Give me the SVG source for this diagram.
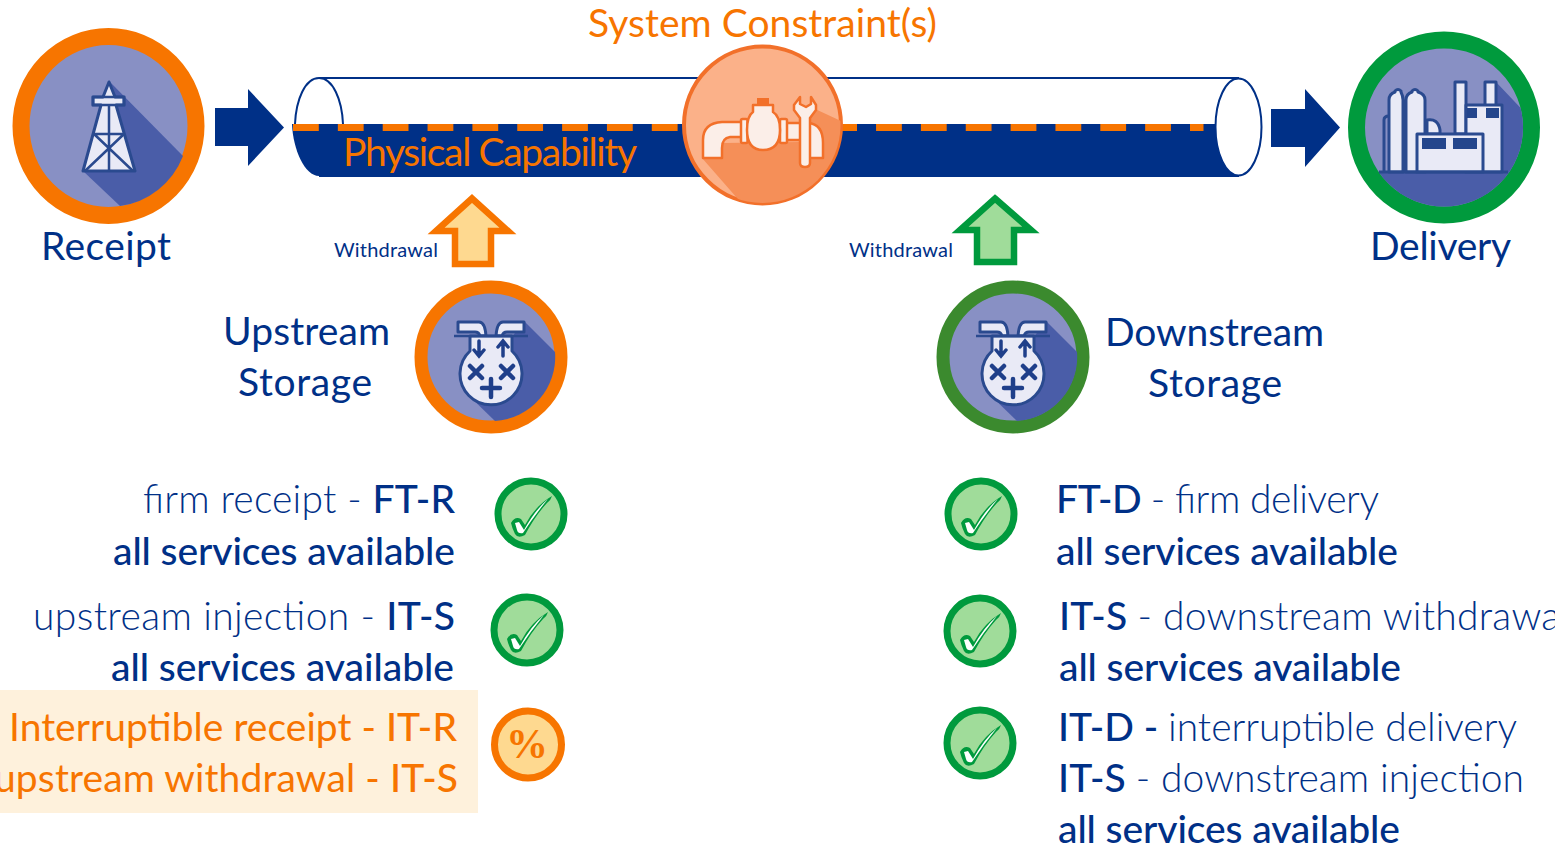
<svg xmlns="http://www.w3.org/2000/svg" width="1555" height="850" viewBox="0 0 1555 850">
<style>
text{font-family:Lato,"Open Sans",sans-serif;fill:#003087}
.big{font-size:39px;font-weight:300}
.big.h{font-weight:400}
.big.or{font-weight:400}
.or,.or tspan{fill:#f77500}
.b{font-weight:500}
.big.b{font-weight:500}
.ring{fill:#8890c4;stroke-width:17}
.shadow{fill:#4a5da8}
.ico{fill:#e9eaf6;stroke:#2a4a8f;stroke-width:3;stroke-linejoin:round}
.block{fill:#003087}
.okc{fill:#a0dc9a;stroke:#009a3d;stroke-width:7}
</style>
<defs>
<g id="chk">
<circle class="okc" r="33"/>
<path d="M-20 9Q-16 2-10 5L-6 11Q4-8 21-18Q20-14 16-11Q4 2-6 21Q-13 25-16 20Q-19 14-20 9Z" fill="#009a3d"/>
<path d="M-16 9L-12 8L-7 16Q4-4 17-15Q3 2-8 19Q-13 20-14 16Z" fill="#fff"/>
</g>
<g id="storage">
<path class="shadow" d="M34-35L64-5A64 64 0 0 1 4 64L-28 33Z"/>
<path class="ico" d="M-33-35H-12Q-6-35-5-21H-11Q-12-25-16-25H-33Z"/>
<path class="ico" d="M33-35H12Q6-35 5-21H11Q12-25 16-25H33Z"/>
<path class="ico" d="M-21-21H21V-6A31 31 0 1 1-21-6Z"/>
<path d="M-37-21H37" stroke="#2a4a8f" stroke-width="2.500"/>
<g stroke="#1f3f8a" fill="none" stroke-linecap="round">
<path stroke-width="3.500" d="M-12-16V-2M-17-7L-12-1L-7-7M12-1V-15M7-10L12-16L17-10"/>
<path stroke-width="4.500" d="M-21 9L-9 21M-9 9L-21 21M10 9L22 21M22 9L10 21M-9 31H9M0 22V40"/>
</g>
</g>
<clipPath id="clipDel"><circle cx="1444" cy="127.500" r="79"/></clipPath>
<clipPath id="clipVal"><circle cx="762.500" cy="125" r="78"/></clipPath>
</defs>

<g id="connectors">
<path class="block" d="M215 108H248V89L284 127.500L248 166V146H215Z"/>
<path class="block" d="M1271 109H1305V89L1340 127.500L1305 167V147H1271Z"/>
<path d="M472 198.500L508 231H491V264H455V231H436Z" fill="#fed990" stroke="#f77500" stroke-width="6.500"/>
<path d="M995 198.500L1031 230H1014V262H977V230H960Z" fill="#a0dc9a" stroke="#009a3d" stroke-width="6.500"/>
<text x="334" y="257" font-size="20" textLength="104" lengthAdjust="spacing">Withdrawal</text>
<text x="849" y="257" font-size="20" textLength="104" lengthAdjust="spacing">Withdrawal</text>
</g>

<g id="pipe">
<path d="M319 78H1238V176H319" fill="#fff" stroke="#003087" stroke-width="2"/>
<path d="M292 124H1238V176H319C305 176 293 150 292 124Z" fill="#003087"/>
<path d="M295 124C296 100 305 78 319 78C333 78 342 100 343 124" fill="#fff" stroke="#003087" stroke-width="2"/>
<ellipse cx="1238.500" cy="127" rx="23" ry="48.500" fill="#fff" stroke="#003087" stroke-width="2"/>
<path d="M293 127.500H1203.500" stroke="#f77500" stroke-width="7" stroke-dasharray="25.800 19.050"/>
<text class="big or" x="343" y="166" textLength="294" lengthAdjust="spacing">Physical Capability</text>
</g>

<g id="constraint">
<text class="big or" x="588" y="37" textLength="349" lengthAdjust="spacing">System Constraint(s)</text>
<circle cx="762.500" cy="125" r="78.500" fill="#fbb189" stroke="#f2702a" stroke-width="4"/>
<path clip-path="url(#clipVal)" d="M702 158L744 206H860V130L813 108L800 142L722 143Z" fill="#f58f58"/>
<g fill="#fbeee8" stroke="#f2702a" stroke-width="2.500" stroke-linejoin="round">
<path d="M703 158V140Q703 123 722 122H742V137H730Q722 138 722 148V158Z"/>
<path d="M785 123H808Q823 124 823 143V158H805V140H785Z"/>
<rect x="741" y="119" width="6.500" height="24" rx="1.500"/>
<rect x="780" y="119" width="7" height="24" rx="1.500"/>
<path d="M753 105H773V112Q780 116 780 130Q780 150 763 150Q747 150 747 130Q747 116 753 112Z"/>
<path d="M800 97L794 105V110L800 118V163Q800 167 805 167Q810 167 810 163V118L816 110V105L811 97V104L806 107L800 104Z"/>
</g>
<rect x="757" y="98" width="12" height="7" fill="#f2702a"/>
</g>

<g id="receipt">
<ellipse class="ring" cx="108.500" cy="126" rx="87.500" ry="89.500" stroke="#f77500"/>
<path class="shadow" d="M109 81L183 156A79 80 0 0 1 120 206L83 171Z"/>
<path class="ico" d="M109 82L115 97H124V105H116L135 171H83L101 105H93V97H103Z"/>
<path d="M93 97H124V105H93ZM94 134H124M109 105V171M94 134L133 171M124 134L85 171" fill="none" stroke="#2a4a8f" stroke-width="2.500"/>
<text x="41" y="260" class="big h" textLength="130" lengthAdjust="spacing">Receipt</text>
</g>

<g id="delivery">
<circle class="ring" cx="1444" cy="127.500" r="87.500" stroke="#009a3d"/>
<g clip-path="url(#clipDel)">
<path class="shadow" d="M1365 172H1525V210H1400ZM1496 82L1530 118V172H1496Z"/>
</g>
<path d="M1384 172V120Q1384 116 1389 116" fill="none" stroke="#2a4a8f" stroke-width="3"/>
<path class="ico" d="M1389 172V100Q1389 94 1395 92V91Q1398 88 1401 91V92Q1403 96 1403 100V172ZM1406 172V100Q1406 94 1412 92V91Q1415 88 1418 91V92Q1425 94 1425 100V172Z"/>
<path class="ico" d="M1427 134V120Q1438 118 1440 130V134Z"/>
<rect class="ico" x="1455" y="82" width="11" height="52"/>
<rect class="ico" x="1485" y="82" width="11" height="24"/>
<rect class="ico" x="1466" y="105" width="36" height="67"/>
<rect class="ico" x="1417" y="134" width="66" height="38"/>
<g fill="#24468c">
<rect x="1422" y="138" width="24" height="11"/>
<rect x="1453" y="138" width="24" height="11"/>
<rect x="1467" y="108" width="10" height="10"/>
<rect x="1486" y="108" width="13" height="10"/>
</g>
<path d="M1379 172H1508" stroke="#2a4a8f" stroke-width="3"/>
<text x="1370" y="260" class="big h" textLength="141" lengthAdjust="spacing">Delivery</text>
</g>

<g id="upstream-storage">
<circle class="ring" cx="491" cy="357" r="70" stroke="#f77500" style="stroke-width:13"/>
<use href="#storage" x="491" y="357"/>
<text x="223" y="345" class="big h" textLength="167" lengthAdjust="spacing">Upstream</text>
<text x="238" y="396" class="big h" textLength="134" lengthAdjust="spacing">Storage</text>
</g>

<g id="downstream-storage">
<circle class="ring" cx="1013" cy="357" r="70" stroke="#3b8a2e" style="stroke-width:13"/>
<use href="#storage" x="1013" y="357"/>
<text x="1105" y="346" class="big h" textLength="219" lengthAdjust="spacing">Downstream</text>
<text x="1148" y="397" class="big h" textLength="134" lengthAdjust="spacing">Storage</text>
</g>

<g id="upstream-services">
<rect x="0" y="690" width="478" height="123" fill="#fef1dc"/>
<text x="143" y="513" class="big" textLength="312" lengthAdjust="spacing">firm receipt - <tspan class="b">FT-R</tspan></text>
<text x="113" y="565" class="big b" textLength="342" lengthAdjust="spacing">all services available</text>
<use href="#chk" x="531" y="514"/>
<text x="33" y="630" class="big" textLength="422" lengthAdjust="spacing">upstream injection - <tspan class="b">IT-S</tspan></text>
<text x="111" y="681" class="big b" textLength="343" lengthAdjust="spacing">all services available</text>
<use href="#chk" x="527" y="630"/>
<text class="big or" x="9" y="741" textLength="448" lengthAdjust="spacing">Interruptible receipt - <tspan class="b">IT-R</tspan></text>
<text class="big or" x="-6" y="792" textLength="464" lengthAdjust="spacing">upstream withdrawal - <tspan class="b">IT-S</tspan></text>
<circle cx="528" cy="744.500" r="33.500" fill="#fed990" stroke="#f77500" stroke-width="7"/>
<text class="or" x="527" y="758" text-anchor="middle" font-size="42" font-weight="700" style="font-family:'Liberation Serif',serif">%</text>
</g>

<g id="downstream-services">
<text x="1056" y="513" class="big" textLength="323" lengthAdjust="spacing"><tspan class="b">FT-D </tspan>- firm delivery</text>
<text x="1056" y="565" class="big b" textLength="342" lengthAdjust="spacing">all services available</text>
<use href="#chk" x="981" y="514"/>
<text x="1059" y="630" class="big" textLength="510" lengthAdjust="spacing"><tspan class="b">IT-S </tspan>- downstream withdrawal</text>
<text x="1059" y="681" class="big b" textLength="342" lengthAdjust="spacing">all services available</text>
<use href="#chk" x="980" y="631"/>
<text x="1058" y="741" class="big" textLength="459" lengthAdjust="spacing"><tspan class="b">IT-D - </tspan>interruptible delivery</text>
<text x="1058" y="792" class="big" textLength="466" lengthAdjust="spacing"><tspan class="b">IT-S </tspan>- downstream injection</text>
<text x="1058" y="843" class="big b" textLength="342" lengthAdjust="spacing">all services available</text>
<use href="#chk" x="980" y="743"/>
</g>
</svg>
